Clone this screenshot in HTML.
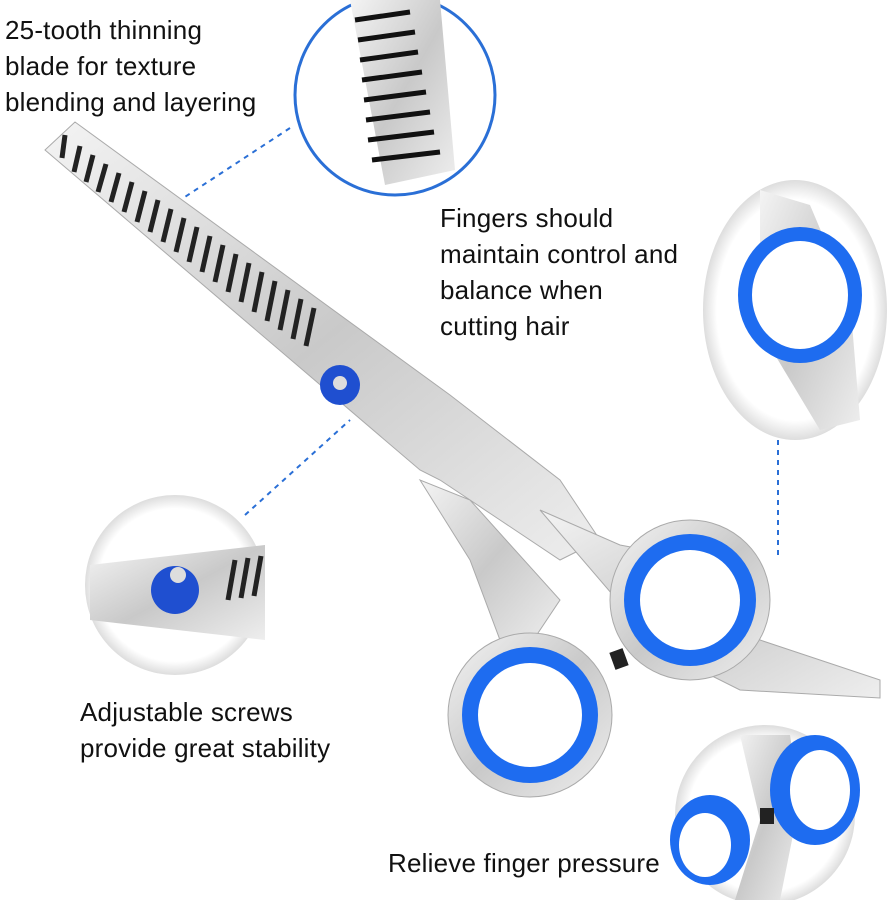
<!DOCTYPE html>
<html><head><meta charset="utf-8"><style>
body{margin:0;background:#fff;width:888px;height:900px;overflow:hidden;font-family:"Liberation Sans","DejaVu Sans",sans-serif;}
.t{position:absolute;font-size:26px;color:#111;line-height:36px;letter-spacing:0.2px;}
</style></head><body>
<svg width="888" height="900" style="position:absolute;left:0;top:0">
<defs>
<linearGradient id="m" x1="0" y1="0" x2="1" y2="1"><stop offset="0" stop-color="#f4f4f4"/><stop offset=".5" stop-color="#c9c9c9"/><stop offset="1" stop-color="#eee"/></linearGradient>
<radialGradient id="sh" cx=".5" cy=".5" r=".5"><stop offset=".85" stop-color="#fff"/><stop offset="1" stop-color="#ddd"/></radialGradient>
</defs>
<g stroke="#2a6fd6" stroke-width="2" stroke-dasharray="5,5" fill="none">
<line x1="290" y1="128" x2="165" y2="210"/>
<line x1="778" y1="440" x2="778" y2="558"/>
<line x1="245" y1="515" x2="350" y2="420"/>
</g>
<polygon points="45,150 75,122 450,395 560,480 600,540 560,560 500,520 440,480 420,470" fill="url(#m)" stroke="#aaa"/>
<g stroke="#222" stroke-width="5">
<line x1="65" y1="135" x2="62" y2="158"/>
<line x1="80" y1="146" x2="74" y2="172"/><line x1="93" y1="155" x2="86" y2="182"/><line x1="106" y1="164" x2="98" y2="192"/>
<line x1="119" y1="173" x2="111" y2="202"/><line x1="132" y1="182" x2="124" y2="212"/><line x1="145" y1="191" x2="137" y2="222"/>
<line x1="158" y1="200" x2="150" y2="232"/><line x1="171" y1="209" x2="163" y2="242"/><line x1="184" y1="218" x2="176" y2="252"/>
<line x1="197" y1="227" x2="189" y2="262"/><line x1="210" y1="236" x2="202" y2="272"/><line x1="223" y1="245" x2="215" y2="282"/>
<line x1="236" y1="254" x2="228" y2="292"/><line x1="249" y1="263" x2="241" y2="302"/><line x1="262" y1="272" x2="254" y2="312"/>
<line x1="275" y1="281" x2="267" y2="321"/><line x1="288" y1="290" x2="280" y2="330"/><line x1="301" y1="299" x2="293" y2="339"/>
<line x1="314" y1="308" x2="306" y2="346"/>
</g>
<circle cx="340" cy="385" r="20" fill="#1f4fd0"/><circle cx="340" cy="383" r="7" fill="#ddd"/>
<path d="M420,480 L470,560 L500,640 L530,645 L560,600 L470,500 Z" fill="url(#m)" stroke="#aaa"/>
<path d="M540,510 L620,545 L700,560 L760,640 L880,680 L880,698 L740,690 L660,650 Z" fill="url(#m)" stroke="#aaa"/>
<circle cx="690" cy="600" r="80" fill="url(#m)" stroke="#aaa"/>
<circle cx="690" cy="600" r="66" fill="#1e6cf0"/><circle cx="690" cy="600" r="50" fill="#fff"/>
<circle cx="530" cy="715" r="82" fill="url(#m)" stroke="#aaa"/>
<circle cx="530" cy="715" r="68" fill="#1e6cf0"/><circle cx="530" cy="715" r="52" fill="#fff"/>
<rect x="612" y="650" width="14" height="18" fill="#222" transform="rotate(-20 619 659)"/>
<circle cx="395" cy="95" r="100" fill="#fff" stroke="#2a6fd6" stroke-width="3"/>
<polygon points="350,0 440,0 455,170 385,185" fill="url(#m)"/>
<g stroke="#111" stroke-width="5">
<line x1="355" y1="20" x2="410" y2="12"/><line x1="358" y1="40" x2="415" y2="32"/><line x1="360" y1="60" x2="418" y2="52"/>
<line x1="362" y1="80" x2="422" y2="72"/><line x1="364" y1="100" x2="426" y2="92"/><line x1="366" y1="120" x2="430" y2="112"/>
<line x1="368" y1="140" x2="434" y2="132"/><line x1="372" y1="160" x2="440" y2="152"/>
</g>
<ellipse cx="795" cy="310" rx="92" ry="130" fill="url(#sh)"/>
<path d="M760,190 L810,205 L850,300 L860,420 L820,430 L760,330 Z" fill="url(#m)"/>
<ellipse cx="800" cy="295" rx="62" ry="68" fill="#1e6cf0"/><ellipse cx="800" cy="295" rx="48" ry="54" fill="#fff"/>
<circle cx="175" cy="585" r="90" fill="url(#sh)"/>
<polygon points="90,565 265,545 265,640 90,620" fill="url(#m)"/>
<g stroke="#222" stroke-width="5"><line x1="235" y1="560" x2="228" y2="600"/><line x1="248" y1="558" x2="241" y2="598"/><line x1="261" y1="556" x2="254" y2="596"/></g>
<circle cx="175" cy="590" r="24" fill="#1f4fd0"/><circle cx="178" cy="575" r="8" fill="#ddd"/>
<circle cx="765" cy="815" r="90" fill="url(#sh)"/>
<path d="M740,735 L790,735 L800,800 L780,900 L735,900 L760,820 Z" fill="url(#m)"/>
<ellipse cx="815" cy="790" rx="45" ry="55" fill="#1e6cf0"/><ellipse cx="820" cy="790" rx="30" ry="40" fill="#fff"/>
<ellipse cx="710" cy="840" rx="40" ry="45" fill="#1e6cf0"/><ellipse cx="705" cy="845" rx="26" ry="32" fill="#fff"/>
<rect x="760" y="808" width="14" height="16" fill="#222"/>
</svg>
<div class="t" style="left:5px;top:12px">25-tooth thinning<br>blade for texture<br>blending and layering</div>
<div class="t" style="left:440px;top:200px">Fingers should<br>maintain control and<br>balance when<br>cutting hair</div>
<div class="t" style="left:80px;top:694px">Adjustable screws<br>provide great stability</div>
<div class="t" style="left:388px;top:845px">Relieve finger pressure</div>
</body></html>
